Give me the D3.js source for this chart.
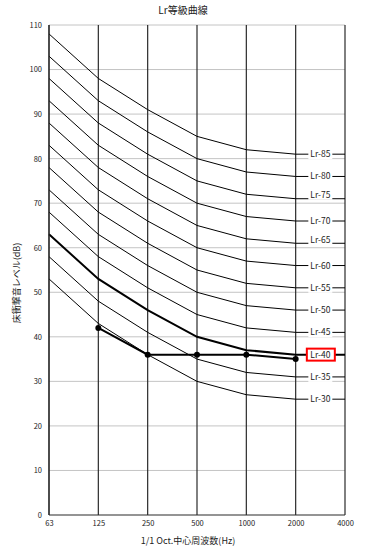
<!DOCTYPE html>
<html>
<head>
<meta charset="utf-8">
<script src="https://cdn.jsdelivr.net/npm/d3@7"></script>
<style>
  body { margin: 0; background: #fff; }
  svg text { font-family: "Noto Sans CJK JP", "Noto Sans", sans-serif; fill: #222; }
</style>
</head>
<body>
<svg id="chart" width="365" height="550"></svg>
<script>
// octave band centre frequencies
const categories = ["63", "125", "250", "500", "1000", "2000", "4000"];
const yTicks = [0, 10, 20, 30, 40, 50, 60, 70, 80, 90, 100, 110];

// Lr reference curves, values at 63 .. 2000 Hz
const lr85 = [108, 98, 91, 85, 82, 81];
const lr80 = [103, 93, 86, 80, 77, 76];
const lr75 = [98, 88, 81, 75, 72, 71];
const lr70 = [93, 83, 76, 70, 67, 66];
const lr65 = [88, 78, 71, 65, 62, 61];
const lr60 = [83, 73, 66, 60, 57, 56];
const lr55 = [78, 68, 61, 55, 52, 51];
const lr50 = [73, 63, 56, 50, 47, 46];
const lr45 = [68, 58, 51, 45, 42, 41];
const lr40 = [63, 53, 46, 40, 37, 36];
const lr35 = [58, 48, 41, 35, 32, 31];
const lr30 = [53, 43, 36, 30, 27, 26];
const curveNames = ["Lr-85", "Lr-80", "Lr-75", "Lr-70", "Lr-65", "Lr-60",
                    "Lr-55", "Lr-50", "Lr-45", "Lr-40", "Lr-35", "Lr-30"];
const curveValues = [lr85, lr80, lr75, lr70, lr65, lr60, lr55, lr50, lr45, lr40, lr35, lr30];

// measured floor impact sound level
const measuredCats = ["125", "250", "500", "1000", "2000"];
const measuredValues = [42, 36, 36, 36, 35];

const highlighted = "Lr-40";

const margin = { top: 25, right: 20, bottom: 35, left: 49 };
const width = 365, height = 550;

const svg = d3.select("#chart");

const x = d3.scalePoint()
  .domain(categories)
  .range([margin.left, width - margin.right]);

const y = d3.scaleLinear()
  .domain([0, 110])
  .range([height - margin.bottom, margin.top]);

// horizontal grid
svg.append("g")
  .selectAll("line")
  .data(yTicks.filter(d => d > 0))
  .join("line")
  .attr("x1", x("63"))
  .attr("x2", x("4000"))
  .attr("y1", d => y(d))
  .attr("y2", d => y(d))
  .attr("stroke", "#c4c4c4")
  .attr("stroke-width", 1);

// vertical lines at each band
svg.append("g")
  .selectAll("line")
  .data(categories)
  .join("line")
  .attr("x1", d => x(d))
  .attr("x2", d => x(d))
  .attr("y1", y(110))
  .attr("y2", y(0))
  .attr("stroke", "#2a2a2a")
  .attr("stroke-width", 1.2);

// bottom axis line
svg.append("line")
  .attr("x1", x("63")).attr("x2", x("4000"))
  .attr("y1", y(0)).attr("y2", y(0))
  .attr("stroke", "#2a2a2a").attr("stroke-width", 1.2);

// y axis labels
const yAxis = svg.append("g")
  .attr("transform", "translate(" + (margin.left - 7) + ",0)")
  .call(d3.axisLeft(y).tickValues(yTicks).tickSize(0).tickPadding(0));
yAxis.select(".domain").remove();
yAxis.selectAll("text")
  .attr("font-size", 7.5)
  .attr("font-family", "'Noto Sans CJK JP', sans-serif")
  .attr("fill", "#222");

// x axis labels
const xAxis = svg.append("g")
  .attr("transform", "translate(0," + (y(0) + 6) + ")")
  .call(d3.axisBottom(x).tickSize(0).tickPadding(0));
xAxis.select(".domain").remove();
xAxis.selectAll("text")
  .attr("font-size", 7.5)
  .attr("font-family", "'Noto Sans CJK JP', sans-serif")
  .attr("fill", "#222");

// Lr curves
const line = d3.line()
  .x(d => x(d.cat))
  .y(d => y(d.v));

const curves = curveNames.map((name, i) => {
  const pts = curveValues[i].map((v, j) => ({ cat: categories[j], v: v }));
  // flat tail to 4000 where the label sits
  pts.push({ cat: "4000", v: curveValues[i][curveValues[i].length - 1] });
  return { name: name, pts: pts };
});

svg.append("g")
  .selectAll("path")
  .data(curves)
  .join("path")
  .attr("d", d => line(d.pts))
  .attr("fill", "none")
  .attr("stroke", "#000")
  .attr("stroke-width", d => d.name === highlighted ? 2 : 1);

// labels on the tail
const labelNudge = { "Lr-75": -4, "Lr-65": -3 };
const labelX = (x("2000") + x("4000")) / 2;
const labels = svg.append("g")
  .selectAll("g")
  .data(curves)
  .join("g")
  .attr("transform", d => "translate(" + labelX + "," +
    (y(d.pts[d.pts.length - 1].v) + (labelNudge[d.name] || 0)) + ")");

labels.append("rect")
  .attr("x", d => d.name === highlighted ? -13.5 : -12)
  .attr("y", d => d.name === highlighted ? -6 : -5)
  .attr("width", d => d.name === highlighted ? 28 : 24)
  .attr("height", d => d.name === highlighted ? 12 : 10)
  .attr("fill", "#fff")
  .attr("stroke", d => d.name === highlighted ? "#ff0000" : "none")
  .attr("stroke-width", 2);

labels.append("text")
  .attr("text-anchor", "middle")
  .attr("dy", "0.35em")
  .attr("font-size", 8.5)
  .text(d => d.name);

// measured data
const measured = measuredCats.map((c, i) => ({ cat: c, v: measuredValues[i] }));
svg.append("path")
  .datum(measured)
  .attr("d", line)
  .attr("fill", "none")
  .attr("stroke", "#000")
  .attr("stroke-width", 2);

svg.append("g")
  .selectAll("circle")
  .data(measured)
  .join("circle")
  .attr("cx", d => x(d.cat))
  .attr("cy", d => y(d.v))
  .attr("r", 3)
  .attr("fill", "#000");

// left axis line on top
svg.append("line")
  .attr("x1", x("63")).attr("x2", x("63"))
  .attr("y1", y(110)).attr("y2", y(0))
  .attr("stroke", "#2a2a2a").attr("stroke-width", 1.2);

// titles
svg.append("text")
  .attr("x", 183)
  .attr("y", 14)
  .attr("text-anchor", "middle")
  .attr("font-size", 10)
  .text("Lr等級曲線");

svg.append("text")
  .attr("x", 188)
  .attr("y", 544)
  .attr("text-anchor", "middle")
  .attr("font-size", 9)
  .text("1/1 Oct.中心周波数(Hz)");

svg.append("text")
  .attr("transform", "translate(20,283) rotate(-90)")
  .attr("text-anchor", "middle")
  .attr("font-size", 9)
  .text("床衝撃音レベル(dB)");
</script>
</body>
</html>
